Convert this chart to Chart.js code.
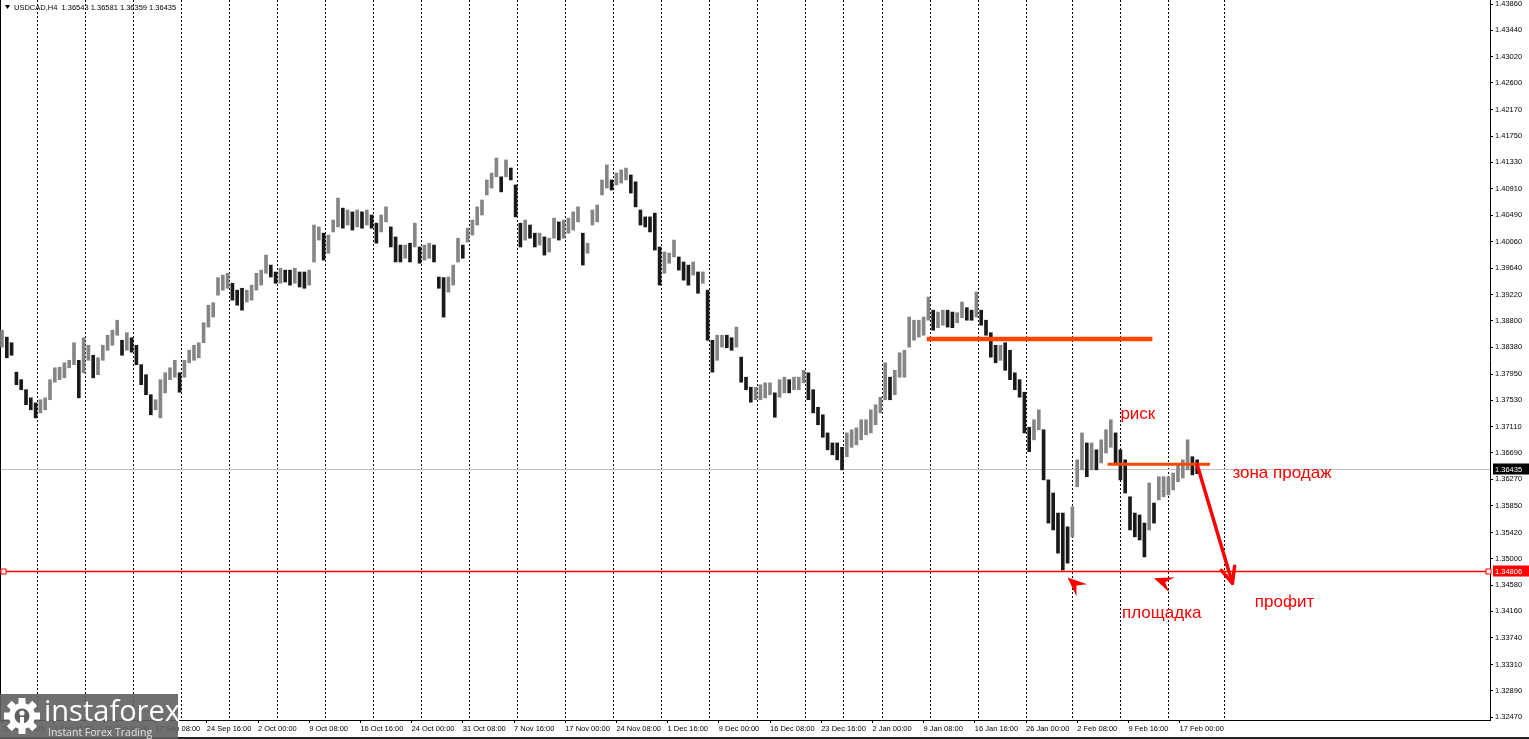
<!DOCTYPE html>
<html>
<head>
<meta charset="utf-8">
<title>USDCAD,H4</title>
<script src="https://cdn.jsdelivr.net/npm/chart.js@4.4.1/dist/chart.umd.min.js"></script>
<style>
  html, body { margin: 0; padding: 0; background: #fff; }
  #wrap { position: relative; width: 1529px; height: 739px; }
</style>
</head>
<body>
<div id="wrap"><canvas id="chart"></canvas></div>
<script>
/* ================= DATA ================= */
const SYMBOL = 'USDCAD,H4';
const HEADER_OHLC = [1.36543, 1.36581, 1.36359, 1.36435];
const BARS_PER_SAMPLE = 3; // one drawn bar = 3 H4 candles

const highs = [
  1.3865, 1.3854, 1.3845, 1.3798, 1.3786, 1.3770, 1.3757, 1.3749, 1.3754, 1.3757,
  1.3786, 1.3805, 1.3806, 1.3813, 1.3817, 1.3845, 1.3817, 1.3853, 1.3841, 1.3825,
  1.3821, 1.3841, 1.3857, 1.3865, 1.3881, 1.3849, 1.3861, 1.3853, 1.3841, 1.3810,
  1.3794, 1.3762, 1.3754, 1.3786, 1.3797, 1.3805, 1.3817, 1.3797, 1.3817, 1.3833,
  1.3841, 1.3845, 1.3877, 1.3905, 1.3909, 1.3949, 1.3953, 1.3956, 1.3940, 1.3929,
  1.3932, 1.3929, 1.3937, 1.3956, 1.3961, 1.3985, 1.3969, 1.3958, 1.3964, 1.3961,
  1.3961, 1.3964, 1.3958, 1.3958, 1.3961, 1.4033, 1.4030, 1.4020, 1.4017, 1.4041,
  1.4076, 1.4060, 1.4057, 1.4054, 1.4057, 1.4054, 1.4057, 1.4049, 1.4036, 1.4049,
  1.4062, 1.4030, 1.4014, 1.4001, 1.4001, 1.4004, 1.4036, 1.3998, 1.4001, 1.4004,
  1.4001, 1.3950, 1.3949, 1.3950, 1.3969, 1.4012, 1.4001, 1.4028, 1.4041, 1.4062,
  1.4073, 1.4105, 1.4116, 1.4140, 1.4110, 1.4137, 1.4124, 1.4097, 1.4036, 1.4041,
  1.4033, 1.4020, 1.4020, 1.4014, 1.4012, 1.4044, 1.4038, 1.4041, 1.4044, 1.4054,
  1.4062, 1.4020, 1.4004, 1.4057, 1.4065, 1.4105, 1.4129, 1.4105, 1.4116, 1.4121,
  1.4124, 1.4113, 1.4102, 1.4057, 1.4046, 1.4046, 1.4052, 1.3998, 1.3990, 1.3988,
  1.4009, 1.3982, 1.3974, 1.3969, 1.3974, 1.3958, 1.3958, 1.3929, 1.3849, 1.3857,
  1.3857, 1.3857, 1.3853, 1.3870, 1.3822, 1.3790, 1.3774, 1.3774, 1.3778, 1.3781,
  1.3781, 1.3765, 1.3786, 1.3790, 1.3786, 1.3790, 1.3790, 1.3801, 1.3797, 1.3770,
  1.3742, 1.3730, 1.3701, 1.3685, 1.3685, 1.3678, 1.3701, 1.3706, 1.3709, 1.3722,
  1.3722, 1.3738, 1.3746, 1.3758, 1.3813, 1.3790, 1.3801, 1.3829, 1.3833, 1.3886,
  1.3881, 1.3881, 1.3886, 1.3918, 1.3897, 1.3894, 1.3897, 1.3897, 1.3894, 1.3893,
  1.3910, 1.3901, 1.3897, 1.3926, 1.3897, 1.3881, 1.3861, 1.3841, 1.3841, 1.3845,
  1.3833, 1.3797, 1.3786, 1.3766, 1.3710, 1.3722, 1.3738, 1.3706, 1.3626, 1.3605,
  1.3573, 1.3573, 1.3551, 1.3583, 1.3658, 1.3701, 1.3685, 1.3685, 1.3674, 1.3690,
  1.3706, 1.3722, 1.3701, 1.3674, 1.3658, 1.3599, 1.3573, 1.3570, 1.3557, 1.3621,
  1.3589, 1.3631, 1.3631, 1.3631, 1.3637, 1.3650, 1.3658, 1.3690, 1.3663, 1.3658
];

const lows = [
  1.3838, 1.3821, 1.3825, 1.3778, 1.3770, 1.3746, 1.3738, 1.3725, 1.3733, 1.3738,
  1.3754, 1.3782, 1.3786, 1.3789, 1.3805, 1.3810, 1.3757, 1.3797, 1.3817, 1.3789,
  1.3794, 1.3817, 1.3833, 1.3841, 1.3857, 1.3825, 1.3833, 1.3830, 1.3810, 1.3778,
  1.3762, 1.3730, 1.3738, 1.3725, 1.3765, 1.3786, 1.3790, 1.3766, 1.3790, 1.3813,
  1.3817, 1.3821, 1.3845, 1.3870, 1.3886, 1.3921, 1.3929, 1.3932, 1.3913, 1.3905,
  1.3897, 1.3910, 1.3913, 1.3929, 1.3937, 1.3956, 1.3950, 1.3940, 1.3940, 1.3942,
  1.3937, 1.3940, 1.3934, 1.3932, 1.3937, 1.3974, 1.4009, 1.3977, 1.3988, 1.4022,
  1.4030, 1.4028, 1.4033, 1.4025, 1.4030, 1.4028, 1.4033, 1.4028, 1.4004, 1.4022,
  1.4038, 1.3998, 1.3974, 1.3974, 1.3980, 1.3974, 1.3998, 1.3972, 1.3977, 1.3980,
  1.3974, 1.3932, 1.3886, 1.3926, 1.3937, 1.3974, 1.3980, 1.4006, 1.4017, 1.4033,
  1.4049, 1.4081, 1.4092, 1.4110, 1.4086, 1.4110, 1.4105, 1.4046, 1.3998, 1.4009,
  1.4012, 1.3998, 1.4001, 1.3985, 1.3990, 1.4012, 1.4009, 1.4012, 1.4020, 1.4025,
  1.4038, 1.3969, 1.3988, 1.4033, 1.4038, 1.4081, 1.4092, 1.4089, 1.4097, 1.4100,
  1.4105, 1.4084, 1.4062, 1.4033, 1.4030, 1.4022, 1.3993, 1.3937, 1.3956, 1.3972,
  1.3982, 1.3961, 1.3945, 1.3937, 1.3953, 1.3924, 1.3940, 1.3849, 1.3798, 1.3817,
  1.3838, 1.3837, 1.3833, 1.3838, 1.3782, 1.3770, 1.3750, 1.3754, 1.3754, 1.3757,
  1.3762, 1.3726, 1.3758, 1.3765, 1.3765, 1.3770, 1.3770, 1.3781, 1.3754, 1.3733,
  1.3714, 1.3694, 1.3674, 1.3666, 1.3658, 1.3642, 1.3663, 1.3678, 1.3682, 1.3690,
  1.3698, 1.3701, 1.3714, 1.3733, 1.3754, 1.3754, 1.3762, 1.3790, 1.3790, 1.3838,
  1.3849, 1.3854, 1.3857, 1.3881, 1.3865, 1.3869, 1.3873, 1.3870, 1.3869, 1.3877,
  1.3885, 1.3881, 1.3881, 1.3886, 1.3873, 1.3857, 1.3822, 1.3813, 1.3817, 1.3801,
  1.3786, 1.3770, 1.3758, 1.3701, 1.3671, 1.3690, 1.3706, 1.3626, 1.3557, 1.3546,
  1.3509, 1.3482, 1.3493, 1.3535, 1.3615, 1.3642, 1.3631, 1.3642, 1.3642, 1.3653,
  1.3669, 1.3678, 1.3653, 1.3626, 1.3605, 1.3546, 1.3535, 1.3530, 1.3503, 1.3546,
  1.3557, 1.3594, 1.3599, 1.3602, 1.3610, 1.3623, 1.3629, 1.3642, 1.3634, 1.3636
];

const timeLabels = [
  '26 Aug 2025', '2 Sep 16:00', '10 Sep 00:00', '17 Sep 08:00', '24 Sep 16:00',
  '2 Oct 00:00', '9 Oct 08:00', '16 Oct 16:00', '24 Oct 00:00', '31 Oct 08:00',
  '7 Nov 16:00', '17 Nov 00:00', '24 Nov 08:00', '1 Dec 16:00', '9 Dec 00:00',
  '16 Dec 08:00', '23 Dec 16:00', '2 Jan 00:00', '9 Jan 08:00', '16 Jan 16:00',
  '26 Jan 00:00', '2 Feb 08:00', '9 Feb 16:00', '17 Feb 00:00'
];
const timeLabelBars = [
  0, 32, 64, 96, 128, 160, 192, 224, 256, 288, 320, 352,
  384, 416, 448, 480, 512, 544, 576, 608, 640, 672, 704, 736
];
const weekBars = [
  22, 52, 82, 112, 142, 172, 202, 232, 262, 292, 322, 352, 382,
  412, 442, 472, 502, 526, 550, 580, 610, 640, 669, 699, 729, 764
];
const priceTicks = [
  1.43860, 1.43440, 1.43020, 1.42600, 1.42170, 1.41750, 1.41330, 1.40910,
  1.40490, 1.40060, 1.39640, 1.39220, 1.38800, 1.38380, 1.37950, 1.37530,
  1.37110, 1.36690, 1.36270, 1.35850, 1.35420, 1.35000, 1.34580, 1.34160,
  1.33740, 1.33310, 1.32890, 1.32470
];

const BID_PRICE = 1.36435;
const TARGET_PRICE = 1.34806;

// drawn objects, in bar numbers and prices
const levels = [
  { from: 578, to: 719, price: 1.3851 },
  { from: 691, to: 755, price: 1.3651 }
];
const profitArrow = { fromBar: 747, fromPrice: 1.3650, toBar: 769, toPrice: 1.3461 };
const pointers = [
  { bar: 666, price: 1.3470 },
  { bar: 720, price: 1.3469 }
];
const notes = [
  { text: 'риск', bar: 699, price: 1.3731 },
  { text: 'зона продаж', bar: 769, price: 1.3637 },
  { text: 'площадка', bar: 700, price: 1.3413 },
  { text: 'профит', bar: 783, price: 1.3431 }
];

/* ================= STYLE ================= */
const X_MIN = -1.25, X_MAX = 930;
const Y_MIN = 1.32425, Y_MAX = 1.43924;
const RED = '#ff0000';
const ORANGE = '#ff4500';
const LEVEL_WIDTHS = [4.5, 3];
const POINTER_ANGLES = [42, 20];
const FONT = '"Liberation Sans", Arial, sans-serif';

Chart.defaults.font.family = FONT;
Chart.defaults.font.size = 7.5;
Chart.defaults.color = '#000';

/* ================= HELPERS ================= */
function line(ctx, x1, y1, x2, y2) {
  ctx.beginPath();
  ctx.moveTo(x1, y1);
  ctx.lineTo(x2, y2);
  ctx.stroke();
}

function priceTag(ctx, area, y, text, bg) {
  ctx.fillStyle = bg;
  ctx.fillRect(area.right + 3, Math.round(y) - 5.5, 36, 11);
  ctx.fillStyle = '#fff';
  ctx.font = '7.5px ' + FONT;
  ctx.textAlign = 'left';
  ctx.textBaseline = 'middle';
  ctx.fillText(text, area.right + 5, Math.round(y) + 0.5);
}

function drawPointer(ctx, x, y, angleDeg) {
  ctx.save();
  ctx.translate(x, y);
  ctx.rotate(angleDeg * Math.PI / 180);
  ctx.fillStyle = RED;
  ctx.beginPath();
  ctx.moveTo(0, 0);
  ctx.lineTo(19, -8);
  ctx.lineTo(12, 0);
  ctx.lineTo(19, 8);
  ctx.closePath();
  ctx.fill();
  ctx.restore();
}

function drawLogo(ctx) {
  ctx.save();
  ctx.fillStyle = 'rgba(96,96,96,0.9)';
  ctx.fillRect(0, 694, 178, 45);
  // gear
  const cx = 22, cy = 716;
  ctx.fillStyle = '#fff';
  for (let i = 0; i < 8; i++) {
    ctx.save();
    ctx.translate(cx, cy);
    ctx.rotate(i * Math.PI / 4);
    ctx.fillRect(-3.5, -18, 7, 8);
    ctx.restore();
  }
  ctx.beginPath();
  ctx.arc(cx, cy, 13, 0, Math.PI * 2);
  ctx.fill();
  ctx.fillStyle = 'rgb(96,96,96)';
  ctx.beginPath();
  ctx.arc(cx, cy, 7.5, 0, Math.PI * 2);
  ctx.fill();
  ctx.fillStyle = '#fff';
  ctx.beginPath();
  ctx.arc(cx, cy - 3, 2.6, 0, Math.PI * 2);
  ctx.fill();
  ctx.fillRect(cx - 2, cy + 1, 4, 12);
  // wordmark
  ctx.textAlign = 'left';
  ctx.textBaseline = 'alphabetic';
  ctx.font = '29px "Open Sans", sans-serif';
  ctx.fillText('instaforex', 44, 721);
  ctx.fillStyle = '#e4e4e4';
  ctx.font = '10.5px "Open Sans", sans-serif';
  ctx.fillText('Instant Forex Trading', 48, 736);
  ctx.restore();
}

/* ================= DRAWINGS PLUGIN ================= */
const drawings = {
  id: 'drawings',
  beforeDatasetsDraw(chart) {
    const { ctx, chartArea: a, scales: { y } } = chart;
    ctx.save();
    ctx.strokeStyle = '#c0c0c0';
    ctx.lineWidth = 1;
    const yb = Math.round(y.getPixelForValue(BID_PRICE)) + 0.5;
    line(ctx, a.left, yb, a.right, yb);
    ctx.strokeStyle = '#000';
    line(ctx, a.left + 0.5, a.top, a.left + 0.5, a.bottom);
    ctx.restore();
  },
  afterDatasetsDraw(chart) {
    const { ctx, chartArea: a, scales: { x, y } } = chart;
    ctx.save();

    // target line with its end squares
    const yt = Math.round(y.getPixelForValue(TARGET_PRICE)) + 0.5;
    ctx.strokeStyle = RED;
    ctx.lineWidth = 1.5;
    line(ctx, a.left, yt, a.right, yt);
    ctx.lineWidth = 1;
    [a.left + 3.5, a.right - 1.5].forEach(sx => {
      ctx.fillStyle = '#fff';
      ctx.fillRect(sx - 2.5, yt - 2.5, 5, 5);
      ctx.strokeRect(sx - 2.5, yt - 2.5, 5, 5);
    });

    // horizontal levels
    ctx.strokeStyle = ORANGE;
    levels.forEach((l, i) => {
      ctx.lineWidth = LEVEL_WIDTHS[i];
      const ly = y.getPixelForValue(l.price);
      line(ctx, x.getPixelForValue(l.from), ly, x.getPixelForValue(l.to), ly);
    });

    // profit arrow
    const x1 = x.getPixelForValue(profitArrow.fromBar), y1 = y.getPixelForValue(profitArrow.fromPrice);
    const x2 = x.getPixelForValue(profitArrow.toBar), y2 = y.getPixelForValue(profitArrow.toPrice);
    const ang = Math.atan2(y2 - y1, x2 - x1);
    ctx.strokeStyle = RED;
    ctx.lineWidth = 3.5;
    ctx.lineCap = 'round';
    line(ctx, x1, y1, x2, y2);
    [-0.42, 0.42].forEach(d => {
      line(ctx, x2, y2, x2 - 17 * Math.cos(ang + d), y2 - 17 * Math.sin(ang + d));
    });

    // pointers at the lows
    pointers.forEach((p, i) => {
      drawPointer(ctx, x.getPixelForValue(p.bar), y.getPixelForValue(p.price), POINTER_ANGLES[i]);
    });

    // notes
    ctx.fillStyle = RED;
    ctx.font = '17px ' + FONT;
    ctx.textAlign = 'left';
    ctx.textBaseline = 'middle';
    notes.forEach(n => ctx.fillText(n.text, x.getPixelForValue(n.bar), y.getPixelForValue(n.price)));

    // header
    ctx.fillStyle = '#000';
    ctx.beginPath();
    ctx.moveTo(5, 5);
    ctx.lineTo(10, 5);
    ctx.lineTo(7.5, 9);
    ctx.closePath();
    ctx.fill();
    ctx.font = '7.5px ' + FONT;
    ctx.fillText(SYMBOL + '  ' + HEADER_OHLC.map(v => v.toFixed(5)).join(' '), 14, 7.5);

    ctx.restore();
  },
  afterDraw(chart) {
    const { ctx, chartArea: a, scales: { y } } = chart;
    ctx.save();
    priceTag(ctx, a, y.getPixelForValue(BID_PRICE), BID_PRICE.toFixed(5), '#000');
    priceTag(ctx, a, y.getPixelForValue(TARGET_PRICE), TARGET_PRICE.toFixed(5), RED);
    ctx.fillStyle = '#222';
    ctx.fillRect(0, 737, chart.width, 2);
    ctx.restore();
    drawLogo(ctx);
  }
};

/* ================= CHART ================= */
const mids = highs.map((h, i) => (h + lows[i]) / 2);
const barColors = mids.map((m, i) => (i > 0 && m < mids[i - 1]) ? '#1a1a1a' : '#858585');
const ohlcData = highs.map((h, i) => ({ x: i * BARS_PER_SAMPLE, y: [lows[i], h] }));

new Chart(document.getElementById('chart'), {
  type: 'bar',
  data: {
    datasets: [{
      data: ohlcData,
      backgroundColor: barColors,
      borderWidth: 0,
      barThickness: 3,
      grouped: false
    }]
  },
  options: {
    responsive: true,
    maintainAspectRatio: false,
    animation: false,
    events: [],
    layout: { padding: 0 },
    plugins: { legend: { display: false }, tooltip: { enabled: false } },
    scales: {
      x: {
        type: 'linear', position: 'bottom', min: X_MIN, max: X_MAX, offset: false,
        afterBuildTicks: s => { s.ticks = timeLabelBars.map(v => ({ value: v })); },
        afterFit: s => { s.height = 19; s.paddingLeft = 0; s.paddingRight = 0; },
        ticks: {
          autoSkip: false, maxRotation: 0, minRotation: 0, align: 'start', padding: 1,
          callback: (v, i) => timeLabels[i]
        },
        grid: { drawOnChartArea: false, tickLength: 3, tickColor: '#000', offset: false },
        border: { color: '#000' }
      },
      weeks: {
        type: 'linear', position: 'top', min: X_MIN, max: X_MAX, offset: false,
        afterBuildTicks: s => { s.ticks = weekBars.map(v => ({ value: v })); },
        afterFit: s => { s.height = 0; s.paddingLeft = 0; s.paddingRight = 0; },
        ticks: { display: false },
        grid: { color: '#000', lineWidth: 1, drawTicks: false, offset: false },
        border: { display: false, dash: [2, 2] }
      },
      y: {
        position: 'right', min: Y_MIN, max: Y_MAX,
        afterBuildTicks: s => { s.ticks = priceTicks.map(v => ({ value: v })); },
        afterFit: s => { s.width = 39; s.paddingTop = 0; s.paddingBottom = 0; },
        ticks: { autoSkip: false, padding: 2, callback: v => v.toFixed(5) },
        grid: { drawOnChartArea: false, tickLength: 3, tickColor: '#000' },
        border: { color: '#000' }
      }
    }
  },
  plugins: [drawings]
});
</script>
</body>
</html>
